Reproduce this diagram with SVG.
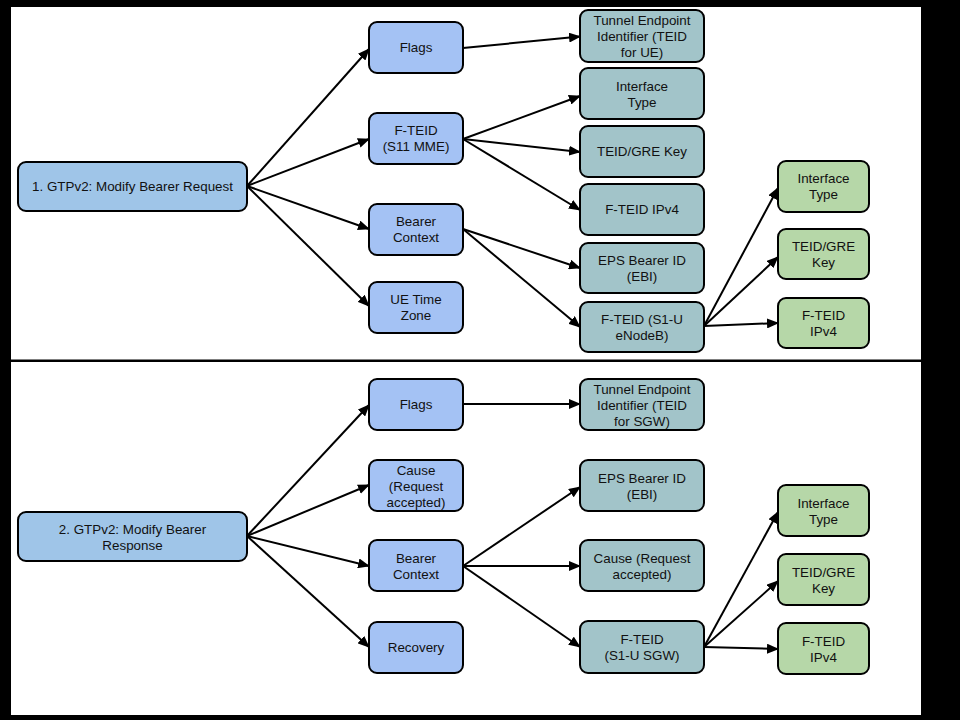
<svg xmlns="http://www.w3.org/2000/svg" width="960" height="720" viewBox="0 0 960 720">
<style>
.n rect{stroke:#000;stroke-width:2;rx:8;ry:8}
.main rect{fill:#9fc5e8}
.blue rect{fill:#a4c2f4}
.teal rect{fill:#a2c4c9}
.green rect{fill:#b6d7a8}
text{font-family:"Liberation Sans",Arial,sans-serif;font-size:13.4px;fill:#111;text-anchor:middle}
#connectors line{stroke:#000;stroke-width:2;marker-end:url(#ah)}
</style>
<defs>
<marker id="ah" markerUnits="userSpaceOnUse" markerWidth="12" markerHeight="10" refX="11" refY="5" orient="auto">
<path d="M0,0 L12,5 L0,10 Z" fill="#000"/>
</marker>
</defs>
<rect x="0" y="0" width="960" height="720" fill="#000"/>
<rect x="11" y="7" width="910" height="708" fill="#fff"/>
<rect x="11" y="359.5" width="910" height="2.5" fill="#000"/>

<g id="connectors">
<line x1="247" y1="186" x2="369" y2="49"/>
<line x1="247" y1="186" x2="369" y2="139"/>
<line x1="247" y1="186" x2="369" y2="229"/>
<line x1="247" y1="186" x2="369" y2="306"/>
<line x1="463" y1="48" x2="580" y2="36.5"/>
<line x1="463" y1="139" x2="580" y2="96"/>
<line x1="463" y1="139" x2="580" y2="152"/>
<line x1="463" y1="139" x2="580" y2="210"/>
<line x1="463" y1="229" x2="580" y2="268"/>
<line x1="463" y1="229" x2="580" y2="327"/>
<line x1="704" y1="326" x2="778" y2="188"/>
<line x1="704" y1="326" x2="778" y2="257"/>
<line x1="704" y1="326" x2="778" y2="323"/>

<line x1="247" y1="536" x2="369" y2="405"/>
<line x1="247" y1="536" x2="369" y2="485"/>
<line x1="247" y1="536" x2="369" y2="566"/>
<line x1="247" y1="536" x2="369" y2="647"/>
<line x1="463" y1="404" x2="580" y2="404"/>
<line x1="463" y1="566" x2="580" y2="487"/>
<line x1="463" y1="566" x2="580" y2="566"/>
<line x1="463" y1="566" x2="580" y2="647"/>
<line x1="704" y1="647" x2="778" y2="512"/>
<line x1="704" y1="647" x2="778" y2="581"/>
<line x1="704" y1="647" x2="778" y2="649"/>
</g>

<!-- Top panel -->
<g id="req" class="n main"><rect x="18" y="162" width="229" height="49"/><text x="132.5" y="191">1. GTPv2: Modify Bearer Request</text></g>
<g id="req-flags" class="n blue"><rect x="369" y="22" width="94" height="51"/><text x="416" y="52">Flags</text></g>
<g id="req-fteid" class="n blue"><rect x="369" y="113" width="94" height="51"/><text x="416" y="135">F-TEID</text><text x="416" y="151">(S11 MME)</text></g>
<g id="req-bc" class="n blue"><rect x="369" y="204" width="94" height="51"/><text x="416" y="226">Bearer</text><text x="416" y="242">Context</text></g>
<g id="req-ue" class="n blue"><rect x="369" y="282" width="94" height="51"/><text x="416" y="304">UE Time</text><text x="416" y="320">Zone</text></g>

<g id="req-teid" class="n teal"><rect x="580" y="10" width="124" height="52"/><text x="642" y="25">Tunnel Endpoint</text><text x="642" y="41">Identifier (TEID</text><text x="642" y="57">for UE)</text></g>
<g id="req-it" class="n teal"><rect x="580" y="68" width="124" height="51"/><text x="642" y="90.5">Interface</text><text x="642" y="106.5">Type</text></g>
<g id="req-key" class="n teal"><rect x="580" y="126" width="124" height="51"/><text x="642" y="156">TEID/GRE Key</text></g>
<g id="req-ipv4" class="n teal"><rect x="580" y="184" width="124" height="51"/><text x="642" y="214">F-TEID IPv4</text></g>
<g id="req-ebi" class="n teal"><rect x="580" y="243" width="124" height="50"/><text x="642" y="265">EPS Bearer ID</text><text x="642" y="281">(EBI)</text></g>
<g id="req-s1u" class="n teal"><rect x="580" y="302" width="124" height="50"/><text x="642" y="324">F-TEID (S1-U</text><text x="642" y="340">eNodeB)</text></g>

<g id="req-g-it" class="n green"><rect x="778" y="161" width="91" height="51"/><text x="823.5" y="183">Interface</text><text x="823.5" y="199">Type</text></g>
<g id="req-g-key" class="n green"><rect x="778" y="229" width="91" height="50"/><text x="823.5" y="251">TEID/GRE</text><text x="823.5" y="267">Key</text></g>
<g id="req-g-ipv4" class="n green"><rect x="778" y="298" width="91" height="50"/><text x="823.5" y="320">F-TEID</text><text x="823.5" y="336">IPv4</text></g>

<!-- Bottom panel -->
<g id="resp" class="n main"><rect x="18" y="512" width="229" height="49"/><text x="132.5" y="533.5">2. GTPv2: Modify Bearer</text><text x="132.5" y="549.5">Response</text></g>
<g id="resp-flags" class="n blue"><rect x="369" y="379" width="94" height="51"/><text x="416" y="409">Flags</text></g>
<g id="resp-cause" class="n blue"><rect x="369" y="460" width="94" height="51"/><text x="416" y="474.5">Cause</text><text x="416" y="490.5">(Request</text><text x="416" y="506.5">accepted)</text></g>
<g id="resp-bc" class="n blue"><rect x="369" y="540" width="94" height="51"/><text x="416" y="563">Bearer</text><text x="416" y="579">Context</text></g>
<g id="resp-rec" class="n blue"><rect x="369" y="622" width="94" height="51"/><text x="416" y="652">Recovery</text></g>

<g id="resp-teid" class="n teal"><rect x="580" y="379" width="124" height="51"/><text x="642" y="393.5">Tunnel Endpoint</text><text x="642" y="409.5">Identifier (TEID</text><text x="642" y="425.5">for SGW)</text></g>
<g id="resp-ebi" class="n teal"><rect x="580" y="460" width="124" height="51"/><text x="642" y="482.5">EPS Bearer ID</text><text x="642" y="498.5">(EBI)</text></g>
<g id="resp-cause2" class="n teal"><rect x="580" y="540" width="124" height="51"/><text x="642" y="563">Cause (Request</text><text x="642" y="579">accepted)</text></g>
<g id="resp-s1u" class="n teal"><rect x="580" y="621" width="124" height="52"/><text x="642" y="643.5">F-TEID</text><text x="642" y="659.5">(S1-U SGW)</text></g>

<g id="resp-g-it" class="n green"><rect x="778" y="485" width="91" height="51"/><text x="823.5" y="507.5">Interface</text><text x="823.5" y="523.5">Type</text></g>
<g id="resp-g-key" class="n green"><rect x="778" y="554" width="91" height="51"/><text x="823.5" y="576.5">TEID/GRE</text><text x="823.5" y="592.5">Key</text></g>
<g id="resp-g-ipv4" class="n green"><rect x="778" y="623" width="91" height="51"/><text x="823.5" y="645.5">F-TEID</text><text x="823.5" y="661.5">IPv4</text></g>
</svg>
